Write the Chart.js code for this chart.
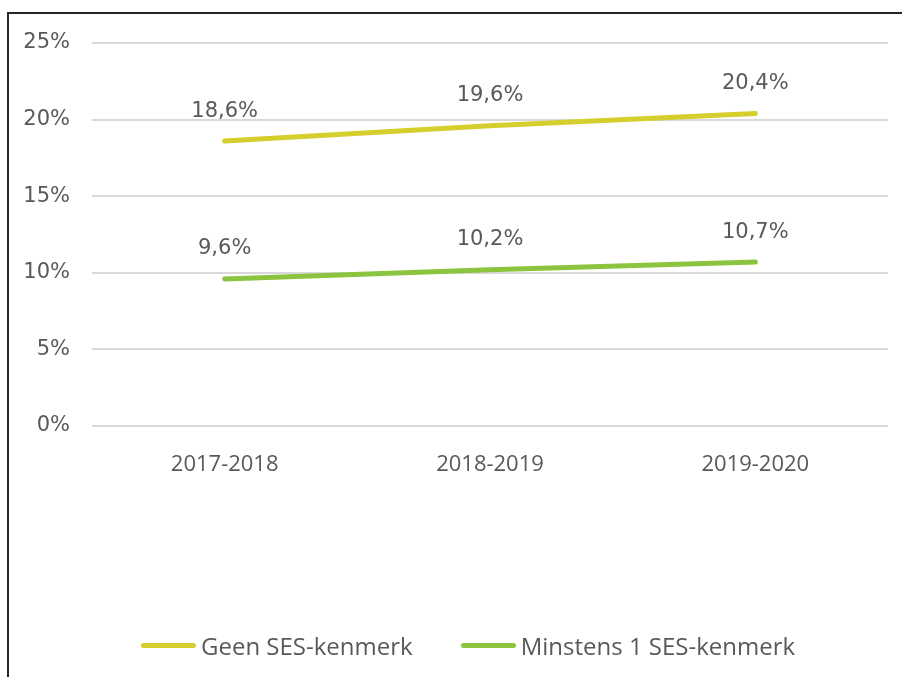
<!DOCTYPE html>
<html>
<head>
<meta charset="utf-8">
<script src="https://cdn.jsdelivr.net/npm/chart.js@4/dist/chart.umd.min.js"></script>
<style>
    html, body { margin: 0; padding: 0; background: #fff; overflow: hidden; }
    #wrap { position: relative; width: 902px; height: 677px; }
    #frame { position: absolute; left: 7px; top: 12px; width: 2000px; height: 2000px; border: 2px solid #262626; }
    canvas { position: absolute; left: 0; top: 0; }
    #legend { position: absolute; left: 141px; top: 627px; height: 36px; display: flex; align-items: center;
              font-family: "Open Sans", sans-serif; font-size: 24px; color: #595959; white-space: nowrap; }
    #legend .item { display: flex; align-items: center; margin-right: 48px; }
    #legend .swatch { width: 55px; height: 5px; border-radius: 3px; margin-right: 5px; }
</style>
</head>
<body>
<div id="wrap">
    <div id="frame"></div>
    <canvas id="sesChart" width="902" height="677"></canvas>
    <div id="legend"></div>
</div>
<script>
// Chart data
const categories = ['2017-2018', '2018-2019', '2019-2020'];
const geenSes = [18.6, 19.6, 20.4];
const minstens1Ses = [9.6, 10.2, 10.7];
const seriesNames = ['Geen SES-kenmerk', 'Minstens 1 SES-kenmerk'];

const textColor = '#595959';

// Draws the value above each point
const valueLabels = {
    id: 'valueLabels',
    afterDatasetsDraw(chart) {
        const ctx = chart.ctx;
        ctx.save();
        ctx.font = '21px "DejaVu Sans", sans-serif';
        ctx.fillStyle = textColor;
        ctx.textAlign = 'center';
        ctx.textBaseline = 'middle';
        chart.data.datasets.forEach((ds, i) => {
            chart.getDatasetMeta(i).data.forEach((pt, j) => {
                const txt = ds.data[j].toFixed(1).replace('.', ',') + '%';
                ctx.fillText(txt, pt.x, pt.y - 30);
            });
        });
        ctx.restore();
    }
};

function buildLegend(chart) {
    const box = document.getElementById('legend');
    chart.data.datasets.forEach((ds) => {
        const item = document.createElement('div');
        item.className = 'item';
        const sw = document.createElement('span');
        sw.className = 'swatch';
        sw.style.background = ds.borderColor;
        const label = document.createElement('span');
        label.textContent = ds.label;
        item.appendChild(sw);
        item.appendChild(label);
        box.appendChild(item);
    });
}

function initSesChart() {
    const ctx = document.getElementById('sesChart').getContext('2d');
    const chart = new Chart(ctx, {
        type: 'line',
        data: {
            labels: categories,
            datasets: [{
                label: seriesNames[0],
                data: geenSes,
                borderColor: '#D5CE2C',
                backgroundColor: '#D5CE2C',
                borderWidth: 5,
                borderCapStyle: 'round',
                pointRadius: 0,
                tension: 0
            }, {
                label: seriesNames[1],
                data: minstens1Ses,
                borderColor: '#8BC53F',
                backgroundColor: '#8BC53F',
                borderWidth: 5,
                borderCapStyle: 'round',
                pointRadius: 0,
                tension: 0
            }]
        },
        options: {
            responsive: false,
            animation: false,
            layout: {
                padding: { left: 8, right: 14, top: 43, bottom: 91 }
            },
            plugins: {
                tooltip: { enabled: false },
                legend: { display: false }
            },
            scales: {
                y: {
                    min: 0,
                    max: 25,
                    afterFit: (scale) => { scale.width = 84; },
                    border: { display: false },
                    grid: { color: '#D9D9D9', lineWidth: 2, drawTicks: false },
                    ticks: {
                        stepSize: 5,
                        padding: 22,
                        color: textColor,
                        font: { family: '"DejaVu Sans", sans-serif', size: 21 },
                        callback: (v) => v + '%'
                    }
                },
                x: {
                    offset: true,
                    afterFit: (scale) => { scale.height = 160; },
                    border: { display: false },
                    grid: { display: false, drawTicks: false },
                    ticks: {
                        padding: 26,
                        color: textColor,
                        font: { family: '"Open Sans", sans-serif', size: 22 }
                    }
                }
            }
        },
        plugins: [valueLabels]
    });
    buildLegend(chart);
}

initSesChart();
</script>
</body>
</html>
